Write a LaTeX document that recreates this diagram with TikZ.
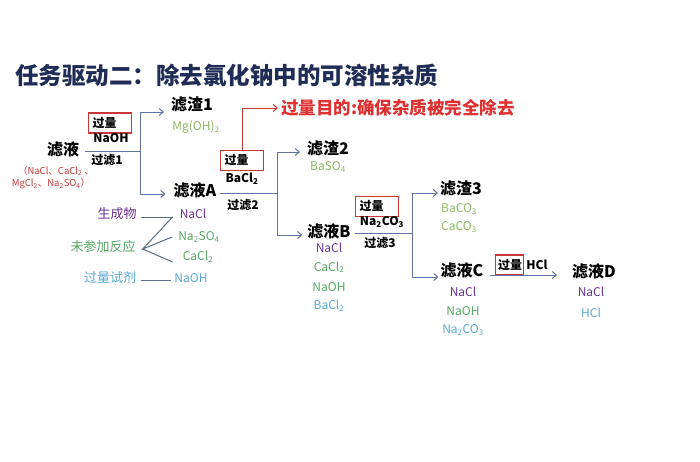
\documentclass[tikz,border=0pt]{standalone}
\usepackage{fontspec}
\setmainfont{Noto Sans CJK SC}
\usepackage{xcolor}
\usetikzlibrary{arrows.meta,positioning}
\definecolor{titlenavy}{RGB}{30,44,86}
\definecolor{flowblue}{RGB}{95,115,165}
\definecolor{boxred}{RGB}{200,55,55}
\definecolor{goalred}{RGB}{222,50,50}
\definecolor{ionpurple}{RGB}{105,50,145}
\definecolor{iongreen}{RGB}{85,168,100}
\definecolor{ionlime}{RGB}{140,186,98}
\definecolor{ionblue}{RGB}{88,172,212}
\definecolor{legendgray}{RGB}{92,108,132}
\tikzset{liquid/.style={font=\fontsize{16}{18}\selectfont\bfseries, inner sep=1pt}, ion/.style={font=\fontsize{12}{14}\selectfont, inner sep=1pt}, legendword/.style={font=\fontsize{13}{15}\selectfont, inner sep=1pt}, stepnote/.style={font=\fontsize{12}{14}\selectfont\bfseries, inner sep=1pt}, excessbox/.style={draw=boxred, line width=1.1pt, minimum height=20pt, inner xsep=4pt, inner ysep=0pt, text width=35pt, align=left, font=\fontsize{12}{14}\selectfont\bfseries}, flow/.style={-{Straight Barb[length=4pt,width=7pt]}, line width=1pt, draw=flowblue}, flowline/.style={line width=1pt, draw=flowblue}, legendline/.style={line width=1pt, draw=legendgray}}

\begin{document}
\begin{tikzpicture}[x=1pt, y=-1pt]
\useasboundingbox (0,0) rectangle (700,461);
\fill[white] (0,0) rectangle (700,461);
\node[font=\fontsize{23.5}{26}\selectfont\bfseries, text=titlenavy, anchor=west, inner sep=0pt] (title) at (15,75) {任务驱动二：除去氯化钠中的可溶性杂质};
% starting solution
\node[liquid] (feed) at (63,149) {滤液};
\node[ion, text=boxred, font=\fontsize{9.5}{11}\selectfont] (feedions1) at (56,171) {（NaCl、CaCl\textsubscript{2} 、};
\node[ion, text=boxred, font=\fontsize{9.5}{11}\selectfont] (feedions2) at (51,184) {MgCl\textsubscript{2}、Na\textsubscript{2}SO\textsubscript{4}）};
% step 1
\node[excessbox, anchor=west] (box1) at (88,123) {过量};
\node[stepnote] (reagent1) at (111,138) {NaOH};
\node[stepnote] (filter1) at (107,160) {过滤1};
\node[liquid] (res1) at (192,105) {滤渣1};
\node[ion, text=ionlime] (mgoh) at (196,127) {Mg(OH)\textsubscript{2}};
\node[liquid] (filtA) at (195,190) {滤液A};
\coordinate (split1) at (140,151);
\draw[flowline] ([xshift=5pt,yshift=-2pt]feed.east) -- (split1);
\draw[flow] (split1) |- ([xshift=-6pt,yshift=-7pt]res1.west);
\draw[flow] (split1) |- ([xshift=-7pt,yshift=-4pt]filtA.west);
% step 2
\node[excessbox, anchor=west] (box2) at (220,160.5) {过量};
\node[stepnote] (reagent2) at (242,179) {BaCl\textsubscript{2}};
\node[stepnote] (filter2) at (243,205) {过滤2};
\node[font=\fontsize{17.5}{20}\selectfont\bfseries, text=goalred, anchor=west, inner sep=1pt] (goal) at (280,108) {过量目的:确保杂质被完全除去};
\draw[-{Straight Barb[length=4pt,width=7pt]}, line width=1pt, draw=boxred] (box2.north) |- ([xshift=-2pt]goal.west);
\node[liquid] (res2) at (328,149) {滤渣2};
\node[ion, text=ionlime] (baso4) at (328,167) {BaSO\textsubscript{4}};
\node[liquid] (filtB) at (329,231) {滤液B};
\coordinate (split2) at (277,193);
\draw[flowline] ([xshift=3pt,yshift=-3pt]filtA.east) -- (split2);
\draw[flow] (split2) |- ([xshift=-6pt,yshift=-3pt]res2.west);
\draw[flow] (split2) |- ([xshift=-4pt,yshift=-4pt]filtB.west);
\foreach \i/\col/\name in {0/ionpurple/{NaCl},1/iongreen/{CaCl\textsubscript{2}},2/iongreen/{NaOH},3/ionblue/{BaCl\textsubscript{2}}} {\node[ion, text=\col] (ionB\i) at (329,248+\i*19.3) {\name};}
% step 3
\node[excessbox, anchor=west] (box3) at (355,206.5) {过量};
\node[stepnote] (reagent3) at (382,222) {Na\textsubscript{2}CO\textsubscript{3}};
\node[stepnote] (filter3) at (380,243) {过滤3};
\node[liquid] (res3) at (461,189) {滤渣3};
\node[ion, text=ionlime] (baco3) at (459,209) {BaCO\textsubscript{3}};
\node[ion, text=ionlime] (caco3) at (459,227) {CaCO\textsubscript{3}};
\node[liquid] (filtC) at (462,270) {滤液C};
\coordinate (split3) at (412,233);
\draw[flowline] ([xshift=3pt,yshift=-2pt]filtB.east) -- (split3);
\draw[flow] (split3) |- ([xshift=-1pt,yshift=-4pt]res3.west);
\draw[flow] (split3) |- ([xshift=-1pt,yshift=-7pt]filtC.west);
\foreach \i/\col/\name in {0/ionpurple/{NaCl},1/iongreen/{NaOH},2/ionblue/{Na\textsubscript{2}CO\textsubscript{3}}} {\node[ion, text=\col] (ionC\i) at (463,292+\i*19) {\name};}
% step 4
\node[excessbox, anchor=west, text width=23pt, inner xsep=2.5pt] (box4) at (495,265) {过量};
\node[stepnote, right=1pt of box4] (reagent4) {HCl};
\node[liquid] (filtD) at (594,271) {滤液D};
\draw[flow] ([xshift=5pt,yshift=-5pt]filtC.east) -- ([xshift=-14pt,yshift=-4pt]filtD.west);
\foreach \i/\col/\name in {0/ionpurple/{NaCl},1/ionblue/{HCl}} {\node[ion, text=\col] (ionD\i) at (591,292+\i*21) {\name};}
% legend under filtrate A
\node[legendword, text=ionpurple] (gen) at (117,214) {生成物};
\node[legendword, text=iongreen] (unr) at (103,247) {未参加反应};
\node[legendword, text=ionblue] (exc) at (110,278) {过量试剂};
\node[ion, text=ionpurple] (naclA) at (193,214) {NaCl};
\node[ion, text=iongreen] (na2so4A) at (199,237) {Na\textsubscript{2}SO\textsubscript{4}};
\node[ion, text=iongreen] (cacl2A) at (198,257) {CaCl\textsubscript{2}};
\node[ion, text=ionblue] (naohA) at (191,278) {NaOH};
\coordinate (fork) at ([xshift=6pt,yshift=-2pt]unr.east);
\draw[legendline] ([xshift=3pt,yshift=-3pt]gen.east) -- ([xshift=-6pt,yshift=-3pt]naclA.west) coordinate (tipA);
\draw[legendline] (tipA) -- (fork) -- ([xshift=-5pt]na2so4A.west);
\draw[legendline] (fork) -- ([xshift=-9pt,yshift=-5pt]cacl2A.west);
\draw[legendline] ([xshift=4pt,yshift=-2pt]exc.east) -- ([xshift=-2pt,yshift=-2pt]naohA.west);
\end{tikzpicture}
\end{document}
